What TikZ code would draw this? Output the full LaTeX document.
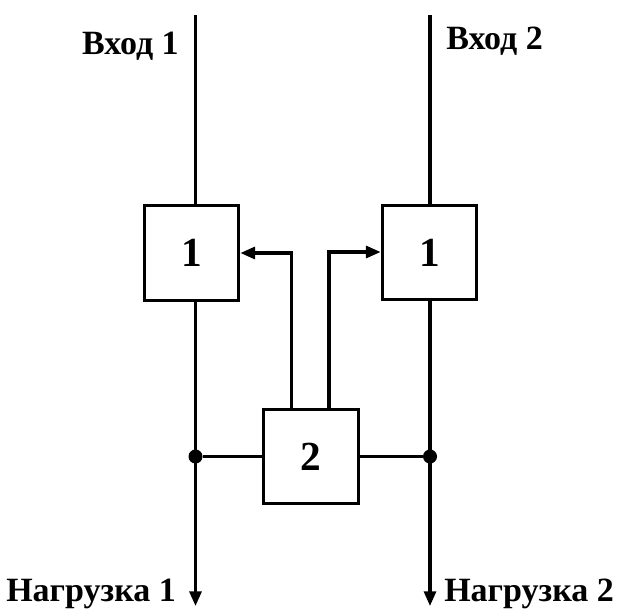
\documentclass[tikz,border=0pt]{standalone}
\usepackage{fontspec}
\setmainfont{Liberation Serif}
\usetikzlibrary{arrows.meta}
\begin{document}
\begin{tikzpicture}[x=0.75pt,y=-0.75pt,
  wire/.style={line width=2.3pt},
  blk/.style={draw,line width=2.3pt,minimum width=71pt,minimum height=71pt,inner sep=0pt,font=\fontsize{31}{33}\selectfont\bfseries},
  lbl/.style={font=\fontsize{25.5}{28}\selectfont\bfseries,inner sep=0pt},
  arr/.style={-{Triangle[length=11pt,width=9pt]}},
  dot/.style={circle,fill,inner sep=0pt,minimum size=10.5pt}]
\useasboundingbox (0,0) rectangle (618,611);
\node[blk] (b1) at (191.5,253) {1};
\node[blk] (b2) at (429.5,252.5) {1};
\node[blk] (b3) at (311,456.5) {2};
\coordinate (in1) at (195.5,15);
\coordinate (in2) at (430,15);
\coordinate (out1) at (195.5,606);
\coordinate (out2) at (430,606);
\node[dot] (d1) at (195.5,456.5) {};
\node[dot] (d2) at (430,456.5) {};
\draw[wire] (in1) -- (in1 |- b1.north);
\draw[wire] (in2) -- (in2 |- b2.north);
\draw[wire,arr] (in1 |- b1.south) -- (out1);
\draw[wire,arr] (in2 |- b2.south) -- (out2);
\draw[wire] (d1) -- (b3.west);
\draw[wire] (b3.east) -- (d2);
\draw[wire,arr] ([xshift=-14.5pt]b3.north) |- (b1.east |- 0,253);
\draw[wire,arr] ([xshift=13.5pt]b3.north) |- (b2.west |- 0,252);
\node[lbl,anchor=east] (t1) at (179,46) {Вход 1};
\node[lbl,anchor=west] (t2) at (446,41) {Вход 2};
\node[lbl,anchor=west] (t3) at (6,594) {Нагрузка 1};
\node[lbl,anchor=west] (t4) at (444,594) {Нагрузка 2};
\end{tikzpicture}
\end{document}
